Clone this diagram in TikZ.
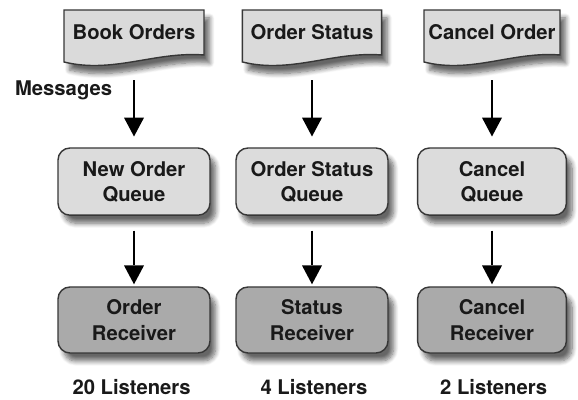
\documentclass[tikz,border=0pt]{standalone}
\usepackage{fontspec}
\setmainfont{TeX Gyre Heros}
\usetikzlibrary{positioning,arrows.meta,shadows.blur,calc}
\definecolor{queue}{RGB}{220,220,220}
\definecolor{receiver}{RGB}{170,170,170}
\definecolor{page}{RGB}{218,218,218}
\definecolor{edge}{RGB}{55,55,55}

\tikzset{
  lbl/.style={font=\fontsize{14.4}{18}\selectfont\bfseries, text=black!90},
  boxshadow/.style={blur shadow={shadow xshift=0.14cm, shadow yshift=-0.2cm,
      shadow blur radius=0.12cm, shadow blur steps=8, shadow opacity=60}},
  queuebox/.style={lbl, draw=edge, line width=1pt, fill=queue, rounded corners=0.3cm,
      minimum width=3.8cm, minimum height=1.68cm, align=center, boxshadow},
  recvbox/.style={queuebox, fill=receiver, minimum height=1.65cm},
  pageshape/.style={draw=edge, line width=1pt, fill=page, boxshadow},
  flow/.style={black, line width=0.8pt,
      -{Triangle[width=0.5cm,length=0.47cm,fill=black,line width=0pt]}}
}

\begin{document}
\begin{tikzpicture}
    \useasboundingbox (0,0) rectangle (14.45,10);

    % Topics (document shapes)
    \foreach \x/\w/\t/\n in {3.35/3.5/Book Orders/d1,7.8/3.48/Order Status/d2,12.3/3.4/Cancel Order/d3} {
        \path[pageshape] ({\x-\w/2},9.75) -- ({\x+\w/2},9.75) -- ({\x+\w/2},8.625)
            .. controls ({\x+0.15*\w},8.72) and ({\x-0.15*\w},8.15) .. ({\x-\w/2},8.45) -- cycle;
        \node[lbl, minimum height=1.5cm] (\n) at (\x,9.2) {\t};
    }

    \node[lbl] (msg) at (1.59,7.75) {Messages};

    % Queues
    \node[queuebox] (q1) at (3.35,5.46) {New Order\\Queue};
    \node[queuebox] (q2) at (7.8,5.46) {Order Status\\Queue};
    \node[queuebox, minimum width=3.72cm] (q3) at (12.3,5.46) {Cancel\\Queue};

    % Receivers
    \node[recvbox] (r1) at (3.35,2.0) {Order\\Receiver};
    \node[recvbox] (r2) at (7.8,2.0) {Status\\Receiver};
    \node[recvbox, minimum width=3.72cm] (r3) at (12.3,2.0) {Cancel\\Receiver};

    % Listeners
    \node[lbl] (n1) at (3.29,0.33) {20 Listeners};
    \node[lbl] (n2) at (7.85,0.33) {4 Listeners};
    \node[lbl] (n3) at (12.34,0.33) {2 Listeners};

    % Fleches
    \foreach \i in {1,2,3} {
        \draw[flow, shorten <=0.45cm, shorten >=0.27cm] (d\i.south) -- (q\i.north);
        \draw[flow, shorten <=0.37cm, shorten >=0.05cm] (q\i.south) -- (r\i.north);
    }

\end{tikzpicture}
\end{document}
